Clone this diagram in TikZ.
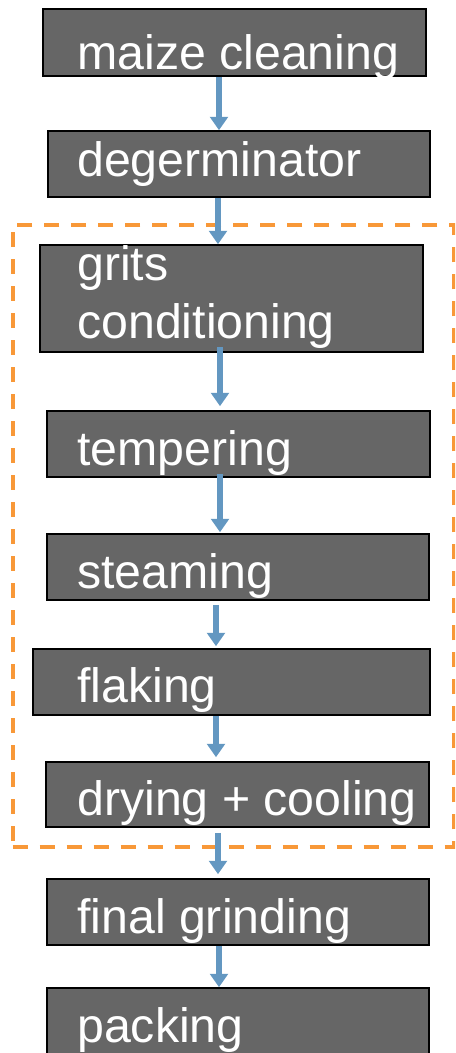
\documentclass[tikz,border=0pt]{standalone}
\usepackage{fontspec}
\setmainfont{Liberation Sans}
\usetikzlibrary{arrows.meta,fit,calc}
\definecolor{boxgrey}{HTML}{666666}
\definecolor{flowblue}{RGB}{99,151,193}
\definecolor{grouporange}{RGB}{248,152,56}
\begin{document}
\begin{tikzpicture}[x=0.75pt,y=-0.75pt,
  stepbox/.style={rectangle, draw=black, line width=1.2pt, fill=boxgrey, inner sep=0pt},
  steptext/.style={anchor=base west, inner sep=0pt, text=white, align=left,
    font=\fontsize{36.2pt}{43.3pt}\selectfont},
  flow/.style={draw=flowblue, line width=4.1pt, -{Triangle[length=10pt,width=13.2pt]}},
  groupbox/.style={rectangle, draw=grouporange, line width=3pt,
    dash pattern=on 11.25pt off 9pt, inner sep=0pt}]
\useasboundingbox (0,0) rectangle (455,1053);
\clip (0,0) rectangle (455,1053);

% dashed frame round the flake-making stages
\node[groupbox, fit={(12.7,225) (454,847)}] (grp) {};

% process steps
\node[stepbox, fit={(43,9) (426,76)}] (b1) {};
\node[stepbox, fit={(48,131) (430,197)}] (b2) {};
\node[stepbox, fit={(40,245) (423,352)}] (b3) {};
\node[stepbox, fit={(47,411) (430,477)}] (b4) {};
\node[stepbox, fit={(47,534) (429,600)}] (b5) {};
\node[stepbox, fit={(33,649) (430,715)}] (b6) {};
\node[stepbox, fit={(46,762) (429,827)}] (b7) {};
\node[stepbox, fit={(47,879) (429,945)}] (b8) {};
\node[stepbox, fit={(47,988) (429,1075)}] (b9) {};

% labels (base anchor of a two-line label sits on its last line)
\node[steptext] (t1) at (77,69) {maize cleaning};
\node[steptext] (t2) at (77,176.5) {degerminator};
\node[steptext] (t3) at (77,338.5) {grits\\conditioning};
\node[steptext] (t4) at (77,465) {tempering};
\node[steptext] (t5) at (77,588) {steaming};
\node[steptext] (t6) at (77,702) {flaking};
\node[steptext] (t7) at (77,815) {drying + cooling};
\node[steptext] (t8) at (77,933) {final grinding};
\node[steptext] (t9) at (77,1042) {packing};

% flow arrows
\draw[flow] (b1.south -| 219,0) -- (b2.north -| 219,0);
\draw[flow] (b2.south -| 218,0) -- (b3.north -| 218,0);
\draw[flow] ($(b3.south -| 220,0)+(0,-6)$) -- ($(b4.north -| 220,0)+(0,-4)$);
\draw[flow] ($(b4.south -| 220,0)+(0,-4)$) -- ($(b5.north -| 220,0)+(0,-1)$);
\draw[flow] ($(b5.south -| 216,0)+(0,4)$) -- ($(b6.north -| 216,0)+(0,-2)$);
\draw[flow] (b6.south -| 216,0) -- ($(b7.north -| 216,0)+(0,-4)$);
\draw[flow] ($(b7.south -| 218,0)+(0,5)$) -- ($(b8.north -| 218,0)+(0,-4)$);
\draw[flow] (b8.south -| 219,0) -- (b9.north -| 219,0);
\end{tikzpicture}
\end{document}
